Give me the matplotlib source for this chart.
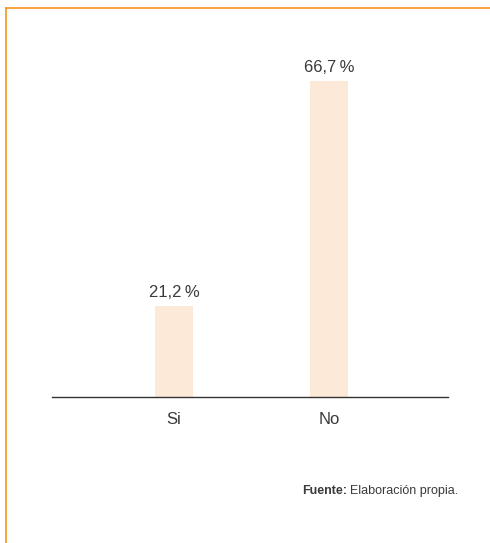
import matplotlib.pyplot as plt
from matplotlib.lines import Line2D

plt.rcParams["font.family"] = ["Liberation Sans", "DejaVu Sans"]

categories = ["Si", "No"]
values = [21.2, 66.7]
labels = ["21,2\u2009%", "66,7\u2009%"]

W, H = 490, 543
fig = plt.figure(figsize=(W / 100, H / 100), dpi=100)
ax = fig.add_axes([52 / W, 146 / H, (448 - 52) / W, (397 - 40) / H])

txt = "#3a3a3a"
x = range(len(categories))
bars = ax.bar(x, values, width=0.245, color="#FDE9D7")
for b, lab in zip(bars, labels):
    ax.text(b.get_x() + b.get_width() / 2, b.get_height() + 1.2, lab,
            ha="center", va="bottom", fontsize=12, color=txt)

ax.set_xlim(-0.787, 1.768)
ax.set_ylim(2.8, 75)
ax.set_xticks(list(x))
ax.set_xticklabels(categories, fontsize=12, color=txt)
ax.tick_params(axis="x", length=0, pad=11)
ax.set_yticks([])
for s in ["top", "right", "left"]:
    ax.spines[s].set_visible(False)
ax.spines["bottom"].set_color("#333333")
ax.spines["bottom"].set_linewidth(1.0)

# orange frame (top and left edges)
oc = "#F7941D"
fig.add_artist(Line2D([6 / W, 1], [1 - 8 / H, 1 - 8 / H], color=oc, lw=1.2, transform=fig.transFigure))
fig.add_artist(Line2D([6 / W, 6 / W], [0, 1 - 8 / H], color=oc, lw=1.2, transform=fig.transFigure))

# source note: bold "Fuente:" followed by regular text
src = fig.text(458 / W, 1 - 491 / H, "Elaboración propia.", ha="right", va="center",
               fontsize=9, color=txt)
fig.canvas.draw()
bb = src.get_window_extent()
fig.text((bb.x0 - 3) / W, 1 - 491 / H, "Fuente:", ha="right", va="center",
         fontsize=9, fontweight="bold", color=txt)

fig.savefig("out.png", dpi=100)
